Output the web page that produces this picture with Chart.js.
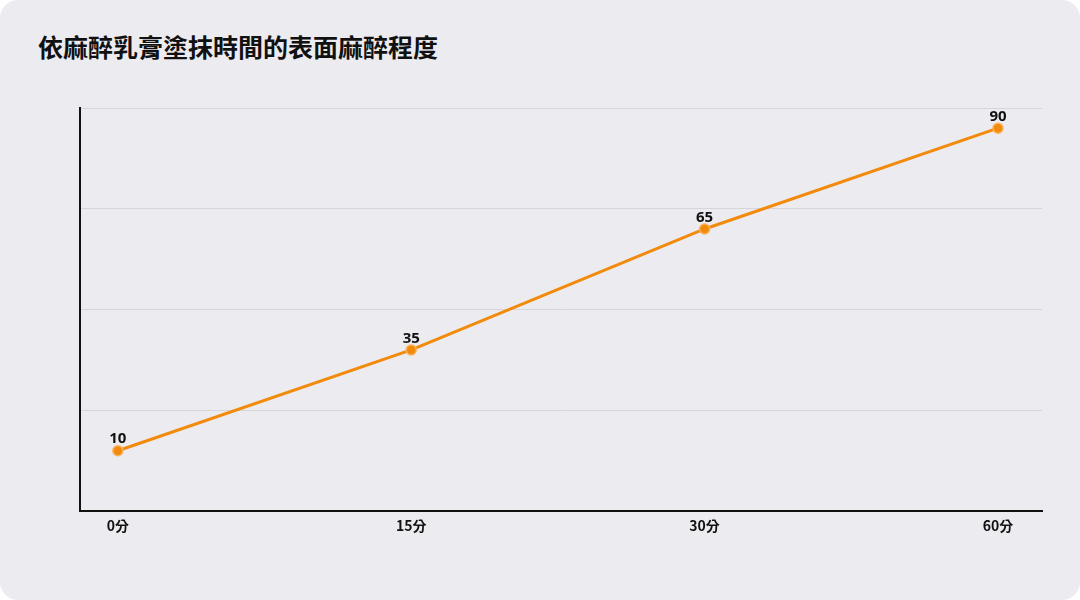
<!DOCTYPE html>
<html><head><meta charset="utf-8">
<script src="https://cdn.jsdelivr.net/npm/chart.js@4"></script>
<style>
html,body{margin:0;padding:0;background:#fff;}
#card{position:absolute;left:0;top:0;width:1080px;height:600px;background:#ECEBF0;border-radius:18px;overflow:hidden;}
#title{position:absolute;left:38px;top:28px;font:bold 25px "Noto Sans CJK TC",sans-serif;color:#111;}
#wrap{position:absolute;left:0;top:0;width:1080px;height:600px;}
</style></head><body>
<div id="card"><div id="title">依麻醉乳膏塗抹時間的表面麻醉程度</div>
<div id="wrap"><canvas id="c" width="1080" height="600"></canvas></div></div>
<script>
const categories = ["0分","15分","30分","60分"];
const values = [10,35,65,90];
const gridValues = [-5,20,45,70,95];

const labelPlugin = {
  id:'lbl',
  afterDatasetsDraw(chart){
    const ctx = chart.ctx;
    const meta = chart.getDatasetMeta(0);
    ctx.save();
    ctx.font = 'bold 15px "Noto Sans", sans-serif';
    ctx.fillStyle = '#111';
    ctx.textAlign = 'center';
    ctx.textBaseline = 'bottom';
    meta.data.forEach((p,i)=>ctx.fillText(String(values[i]), p.x, p.y-4));
    ctx.restore();
  }
};

new Chart(document.getElementById('c'),{
  type:'line',
  data:{datasets:[{data:values.map((v,i)=>({x:i,y:v})),borderColor:'#F28A0C',borderWidth:3,
    pointBackgroundColor:'#F28A0C',pointBorderColor:'#FBB15A',pointBorderWidth:1.5,pointRadius:5,tension:0}]},
  options:{
    responsive:false,animation:false,
    layout:{padding:{left:80,right:38,top:108,bottom:60}},
    plugins:{legend:{display:false},tooltip:{enabled:false}},
    scales:{
      x:{type:'linear',min:-0.129,max:3.15,
        afterBuildTicks(s){s.ticks=categories.map((c,i)=>({value:i}));},
        ticks:{callback:(v)=>categories[v],color:'#111',font:{family:'"Noto Sans CJK TC"',size:14,weight:'bold'},padding:6,maxRotation:0},
        grid:{display:false,drawTicks:false},border:{color:'#111',width:2}},
      y:{min:-5,max:95,
        afterBuildTicks(s){s.ticks=gridValues.map(v=>({value:v}));},
        ticks:{display:false},
        grid:{color:'#D6D5DA',drawTicks:false},border:{color:'#111',width:2}}
    }
  },
  plugins:[labelPlugin]
});
</script></body></html>
